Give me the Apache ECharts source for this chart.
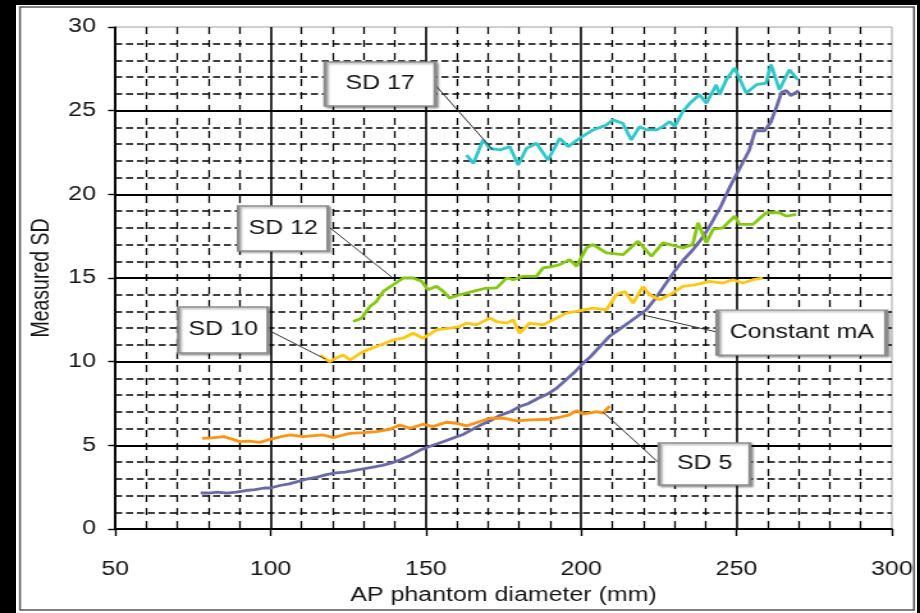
<!DOCTYPE html>
<html>
<head>
<meta charset="utf-8">
<script src="https://cdn.jsdelivr.net/npm/echarts@6/dist/echarts.min.js"></script>
<style>
html, body { margin: 0; padding: 0; background: #000; width: 920px; height: 613px; overflow: hidden; }
#panel { position: absolute; left: 16px; top: 5px; width: 901px; height: 608px; background: #fff; }
/* the source picture is stretched sideways, so the chart is drawn narrow and scaled */
#chart { position: absolute; left: 0; top: 0; width: 719px; height: 613px; transform: scaleX(1.2796); transform-origin: 0 0; }
</style>
</head>
<body>
<div id="panel"></div>
<div id="chart"></div>
<script>
// AP phantom diameter (mm) -> measured SD
var constantMA = [[77.5,2.15],[80,2.15],[83,2.2],[86,2.15],[89,2.2],[92,2.3],[95,2.35],[98,2.45],[100,2.45],[103,2.6],[106,2.7],[109,2.85],[112,3.0],[115,3.1],[118,3.25],[121,3.35],[124,3.4],[127,3.5],[130,3.6],[133,3.7],[136,3.8],[139,3.95],[142,4.15],[145,4.4],[148,4.7],[150,4.85],[153,5.05],[156,5.25],[159,5.45],[162,5.65],[165,5.95],[168,6.25],[171,6.5],[174,6.8],[177,7.0],[180,7.3],[183,7.5],[186,7.8],[189,8.05],[192,8.4],[195,8.9],[198,9.4],[200,9.8],[203,10.3],[206,10.9],[209,11.5],[212,11.9],[215,12.3],[218,12.7],[221,13.1],[224,13.8],[227,14.6],[230,15.4],[233,16.1],[236,16.7],[239,17.4],[242,18.3],[245,19.3],[248,20.5],[250,21.2],[252,21.9],[254,22.6],[256,23.8],[259,23.8],[261,24.3],[263,25.3],[264.5,26.1],[266,26.2],[267.5,25.9],[270,26.2]];
var sd5 = [[78,5.42],[81,5.45],[85,5.52],[88,5.35],[90,5.22],[93,5.25],[96.6,5.18],[99.8,5.36],[103,5.5],[106.3,5.62],[110.5,5.52],[114,5.58],[117,5.62],[120.2,5.46],[123,5.6],[125.6,5.72],[129.8,5.76],[134.1,5.82],[138.4,5.96],[141.6,6.22],[144.9,6.02],[149.1,6.26],[152.3,6.12],[156.6,6.38],[159.9,6.32],[163.1,6.16],[167.4,6.42],[170.6,6.62],[174.9,6.62],[179.2,6.46],[183.4,6.52],[189.9,6.56],[193.1,6.68],[196,6.8],[198.5,7.07],[200.6,6.88],[202.7,6.92],[204.9,7.01],[207,6.92],[209.2,7.35]];
var sd10 = [[116,10.4],[119,10.0],[121,10.2],[123.4,10.4],[125.6,10.1],[129.8,10.6],[134.1,10.9],[139.5,11.3],[142.7,11.4],[145.9,11.7],[149.1,11.4],[153.4,11.9],[157.7,12.0],[160.9,12.1],[163.1,12.3],[166.3,12.2],[170.6,12.6],[172.7,12.4],[176,12.3],[178.1,12.5],[180.2,11.7],[183.4,12.3],[187.7,12.2],[190.9,12.5],[195.2,12.9],[198.5,13.0],[203.8,13.2],[208.1,13.1],[211.3,14.0],[214,14.2],[216.7,13.5],[219.9,14.5],[222,14.0],[225.2,13.7],[229.5,14.1],[232.7,14.5],[237,14.6],[241.3,14.8],[245.6,14.7],[248.8,14.9],[252,14.7],[255.3,14.9],[258.5,15.0]];
var sd12 = [[126.6,12.4],[129.3,12.6],[132,13.3],[134.1,13.6],[136.3,14.2],[139.5,14.6],[142.7,15.0],[145.9,15.0],[148.6,14.8],[150.7,14.3],[153.4,14.5],[155.6,14.2],[157.7,13.8],[160.9,14.0],[165.2,14.2],[169.5,14.4],[172.7,14.4],[176,15.0],[178.1,14.9],[181.3,15.1],[185.6,15.1],[187.7,15.6],[191,15.7],[193.1,15.8],[196.3,16.1],[198.5,15.7],[201.7,16.8],[203.8,17.0],[208.1,16.5],[213.5,16.4],[218.3,17.2],[222.6,16.3],[226.3,17.1],[230.6,16.9],[232.7,16.8],[235.9,17.0],[237.6,18.3],[240.3,17.1],[242.4,17.9],[245.6,18.0],[249.4,18.7],[251,18.2],[255.3,18.2],[259.5,18.9],[263.8,18.9],[266,18.7],[269.2,18.8]];
var sd17 = [[163.1,22.35],[165.3,21.85],[168.4,23.25],[170.6,22.75],[173.8,22.65],[177,22.85],[179.7,21.75],[182.4,22.75],[185.6,23.05],[189.3,22.05],[193.1,23.35],[195.8,22.85],[199.5,23.35],[203.8,23.85],[208.1,24.15],[210.2,24.45],[213.4,24.25],[216.1,23.25],[218.8,24.05],[221,23.85],[224.2,23.85],[226.3,24.05],[228.5,24.35],[230.1,24.05],[232.7,24.95],[235,25.45],[238.1,25.95],[240.3,25.45],[243.5,26.55],[244.5,25.95],[246.7,26.85],[249.4,27.55],[253.1,26.05],[256.4,26.55],[259.5,26.65],[261.1,27.75],[263.8,26.25],[267,27.45],[269.7,26.85]];

var xTicks = { min: 50, max: 300, step: 50 };
var yTicks = { min: 0, max: 30, step: 5 };

// callout boxes: where the box sits, where its leader starts and where it touches the curve
var callouts = {
    'Constant mA': { box: [271.0, 11.74], from: [243.7, 11.77], tip: [219.9, 12.79], size: [132, 45] },
    'SD 5':  { box: [239.7, 3.88], from: [224.7, 4.0], tip: [207.0, 6.99], size: [71, 42] },
    'SD 10': { box: [84.75, 11.89], from: [99.2, 11.89], tip: [117.6, 10.16], size: [70, 46] },
    'SD 12': { box: [104.05, 17.96], from: [119.2, 17.99], tip: [139.4, 15.0], size: [70, 45] },
    'SD 17': { box: [135.3, 26.59], from: [153.0, 26.54], tip: [171.6, 22.65], size: [86, 44] }
};

var font = 'Liberation Sans, Arial, sans-serif';
var textColor = '#161616';

function makeSeries(name, data, color) {
    var c = callouts[name];
    return {
        name: name,
        type: 'line',
        data: data,
        symbol: 'none',
        lineStyle: { color: color, width: 2.8 },
        itemStyle: { color: color },
        z: 3,
        markLine: {
            silent: true,
            symbol: ['none', 'none'],
            label: { show: false },
            lineStyle: { color: '#333', width: 1, type: 'solid' },
            data: [[{ coord: c.tip }, { coord: c.from }]]
        },
        markPoint: {
            silent: true,
            symbol: 'rect',
            symbolSize: c.size,
            z: 10,
            itemStyle: {
                color: '#fff',
                borderColor: '#8c8c8c',
                borderWidth: 2,
                shadowColor: 'rgba(0,0,0,0.3)',
                shadowBlur: 2,
                shadowOffsetX: 1.5,
                shadowOffsetY: 1.5
            },
            label: {
                show: true,
                position: 'inside',
                formatter: name,
                color: textColor,
                fontSize: 19.5,
                fontFamily: font
            },
            data: [{ coord: c.box }]
        }
    };
}

var myChart = echarts.init(document.getElementById('chart'));
myChart.setOption({
    animation: false,
    backgroundColor: 'transparent',
    graphic: [{
        type: 'rect',
        shape: { x: 15.6, y: 7, width: 698.7, height: 603 },
        style: { fill: 'none', stroke: '#555', lineWidth: 1.5 },
        silent: true
    }],
    grid: {
        left: 90,
        right: 22,
        top: 27,
        bottom: 84,
        show: true,
        borderColor: '#a0a0a0',
        borderWidth: 1
    },
    xAxis: {
        type: 'value',
        min: xTicks.min,
        max: xTicks.max,
        interval: xTicks.step,
        name: 'AP phantom diameter (mm)',
        nameLocation: 'middle',
        nameGap: 57,
        nameTextStyle: { color: textColor, fontSize: 19.5, fontFamily: font },
        axisLine: { lineStyle: { color: '#000', width: 1.6 } },
        axisTick: { show: true, inside: false, length: 7, lineStyle: { color: '#000', width: 1.4 } },
        axisLabel: { color: textColor, fontSize: 19.5, fontFamily: font, margin: 31 },
        splitLine: { show: true, showMaxLine: false, lineStyle: { color: '#000', width: 1.6 } },
        minorTick: { show: false, splitNumber: 5 },
        minorSplitLine: { show: true, lineStyle: { color: '#000', width: 1.3, type: [7, 6] } }
    },
    yAxis: {
        type: 'value',
        min: yTicks.min,
        max: yTicks.max,
        interval: yTicks.step,
        name: 'Measured SD',
        nameLocation: 'middle',
        nameGap: 46,
        nameTextStyle: { color: textColor, fontSize: 19.5, fontFamily: font },
        axisLine: { show: true, lineStyle: { color: '#000', width: 1.6 } },
        axisTick: { show: true, inside: false, length: 5.5, lineStyle: { color: '#000', width: 1.4 } },
        axisLabel: { color: textColor, fontSize: 19.5, fontFamily: font, margin: 15 },
        splitLine: { show: true, showMaxLine: false, lineStyle: { color: '#000', width: 1.8 } },
        minorTick: { show: false, splitNumber: 5 },
        minorSplitLine: { show: true, lineStyle: { color: '#000', width: 1.6, type: [5.5, 3] } }
    },
    series: [
        makeSeries('Constant mA', constantMA, '#6a6aa6'),
        makeSeries('SD 5', sd5, '#ff9414'),
        makeSeries('SD 10', sd10, '#ffc814'),
        makeSeries('SD 12', sd12, '#86c814'),
        makeSeries('SD 17', sd17, '#33c8c8')
    ]
});
</script>
</body>
</html>
